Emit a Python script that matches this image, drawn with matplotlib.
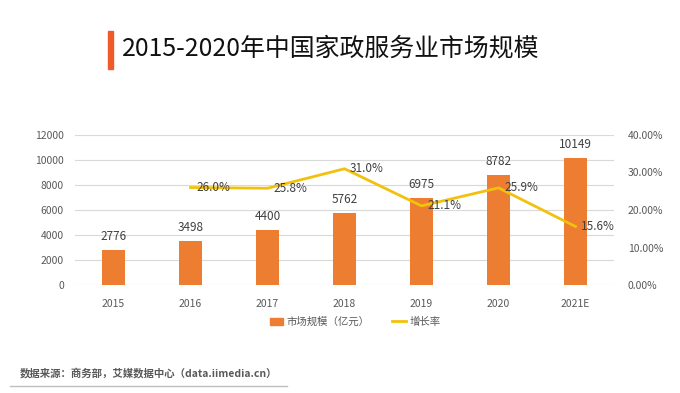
import matplotlib
matplotlib.use("Agg")
import matplotlib.pyplot as plt
import matplotlib.patches as mpatches
from matplotlib.lines import Line2D
import numpy as np

plt.rcParams['font.family'] = ['Noto Sans CJK SC', 'DejaVu Sans']

# --- DATA ---
years = ["2015", "2016", "2017", "2018", "2019", "2020", "2021E"]
market_size = [2776, 3498, 4400, 5762, 6975, 8782, 10149]
growth_years = ["2016", "2017", "2018", "2019", "2020", "2021E"]
growth_rate = [26.0, 25.8, 31.0, 21.1, 25.9, 15.6]

title = "2015-2020年中国家政服务业市场规模"
source = "数据来源：商务部，艾媒数据中心（data.iimedia.cn）"

bar_color = "#ED7D31"
line_color = "#F2C10E"
tick_color = "#595959"

fig = plt.figure(figsize=(6.8, 3.93), dpi=100)
ax = fig.add_axes([75 / 680, 1 - 285 / 393, 539 / 680, 150 / 393])

x_pos = np.arange(len(years))
ax.bar(x_pos, market_size, width=0.31, color=bar_color, zorder=2)
for x, y in zip(x_pos, market_size):
    ax.annotate(f"{y}", (x, y), xytext=(0, 5), textcoords="offset points",
                ha="center", va="bottom", fontsize=8.5, color="#404040")

ax.set_xlim(-0.5, len(years) - 0.5)
ax.set_ylim(0, 12000)
ax.set_yticks(range(0, 12001, 2000))
ax.set_xticks(x_pos)
ax.set_xticklabels(years)
ax.grid(True, axis="y", color="#D9D9D9", linewidth=0.8, zorder=0)
for s in ax.spines.values():
    s.set_visible(False)
ax.tick_params(axis="both", length=0, labelsize=7.5, colors=tick_color, pad=8)
ax.tick_params(axis="x", pad=10)

# growth rate on right axis
ax2 = ax.twinx()
gx = [years.index(y) for y in growth_years]
ax2.plot(gx, growth_rate, color=line_color, linewidth=2, zorder=3)
for x, y in zip(gx, growth_rate):
    ax2.annotate(f"{y:.1f}%", (x, y), xytext=(4, 0), textcoords="offset points",
                 ha="left", va="center", fontsize=8.5, color="#404040")
ax2.set_ylim(0, 40)
ax2.set_yticks(range(0, 41, 10))
ax2.set_yticklabels([f"{v:.2f}%" for v in range(0, 41, 10)])
for s in ax2.spines.values():
    s.set_visible(False)
ax2.tick_params(axis="y", length=0, labelsize=7.5, colors=tick_color, pad=10)

# legend
handles = [mpatches.Patch(color=bar_color, label="市场规模（亿元）"),
           Line2D([0], [0], color=line_color, linewidth=2, label="增长率")]
fig.legend(handles=handles, loc="center", bbox_to_anchor=(355 / 680, 1 - 322 / 393),
           ncol=2, frameon=False, fontsize=7.5, handlelength=1.3, handleheight=0.7,
           columnspacing=2.2, handletextpad=0.3, labelcolor=tick_color)

# title with accent bar
fig.patches.append(mpatches.Rectangle((108 / 680, 1 - 69 / 393), 5 / 680, 38 / 393,
                                      transform=fig.transFigure, color="#F05A28"))
fig.text(122 / 680, 1 - 48 / 393, title, fontsize=17.9, fontweight="medium",
         color="#111111", ha="left", va="center")

# source note
fig.text(20 / 680, 1 - 373 / 393, source, fontsize=7.5, fontweight="bold",
         color="#595959", ha="left", va="center")
fig.add_artist(Line2D([10 / 680, 287 / 680], [1 - 386 / 393, 1 - 386 / 393],
                      transform=fig.transFigure, color="#BFBFBF", linewidth=1))

fig.savefig("out.png", dpi=100)
